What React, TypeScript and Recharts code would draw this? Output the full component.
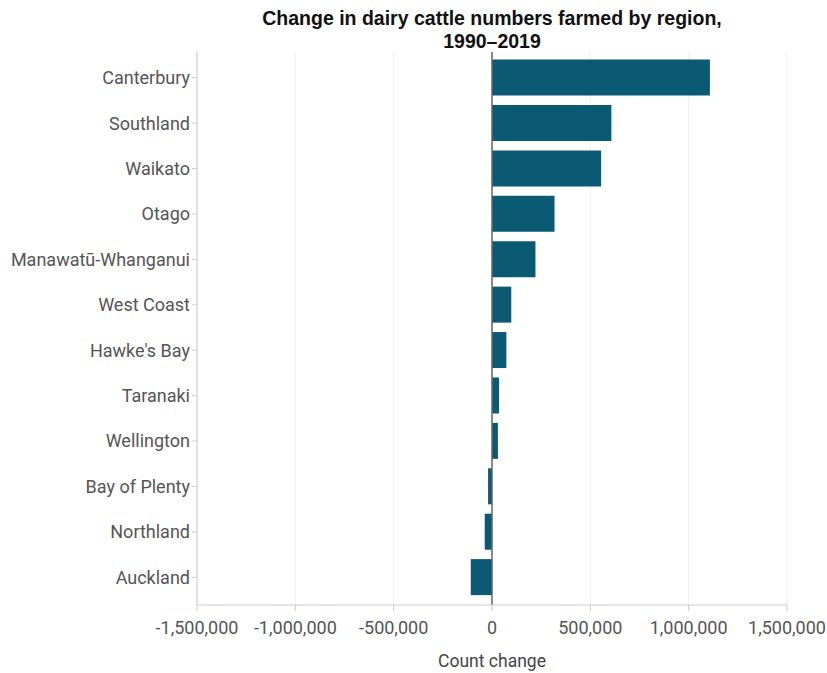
import { Bar, BarChart, CartesianGrid, ReferenceLine, XAxis, YAxis } from 'recharts'

const regions = [
  'Canterbury',
  'Southland',
  'Waikato',
  'Otago',
  'Manawatū-Whanganui',
  'West Coast',
  "Hawke's Bay",
  'Taranaki',
  'Wellington',
  'Bay of Plenty',
  'Northland',
  'Auckland',
]

const countChange = [
  1108000, 607000, 555000, 318000, 221000, 98000, 73000, 36000, 30000, -20000, -37000, -108000,
]

const xTicks = [-1500000, -1000000, -500000, 0, 500000, 1000000, 1500000]

const chartData = regions.map((region, i) => ({ region, change: countChange[i] }))

const tickStyle = { fontSize: 18, fill: '#555', fontFamily: 'Roboto, sans-serif' }

function formatCount(value: number): string {
  return value.toLocaleString('en-US')
}

export default function App() {
  return (
    <div style={{ position: 'absolute', left: 0, top: 0, width: 827, height: 673, background: '#fff' }}>
      <div
        style={{
          position: 'absolute',
          left: 147,
          width: 690,
          top: 7,
          textAlign: 'center',
          fontFamily: '"Liberation Sans", Arial, sans-serif',
          fontWeight: 'bold',
          fontSize: 19.5,
          lineHeight: '23px',
          color: '#111',
        }}
      >
        Change in dairy cattle numbers farmed by region,
        <br />
        1990–2019
      </div>
      <BarChart
        width={827}
        height={673}
        data={chartData}
        layout="vertical"
        barCategoryGap="10%"
        margin={{ top: 52, right: 40, bottom: 28, left: 0 }}
      >
        <CartesianGrid horizontal={false} stroke="#eeeeee" />
        <XAxis
          type="number"
          domain={[-1500000, 1500000]}
          ticks={xTicks}
          tickFormatter={formatCount}
          tick={tickStyle}
          tickSize={6}
          tickMargin={10}
          stroke="#cccccc"
          height={40}
          interval={0}
          label={{
            value: 'Count change',
            position: 'insideBottom',
            offset: -22,
            style: { fontSize: 17.5, fill: '#444', fontFamily: 'Roboto, sans-serif' },
          }}
        />
        <YAxis
          type="category"
          dataKey="region"
          width={197}
          tick={tickStyle}
          tickSize={5}
          tickMargin={2}
          stroke="#cccccc"
          interval={0}
          padding={{ top: 3, bottom: 5 }}
        />
        <ReferenceLine x={0} stroke="#666666" strokeWidth={1.5} />
        <Bar dataKey="change" fill="#0b5a73" isAnimationActive={false} />
      </BarChart>
    </div>
  )
}
